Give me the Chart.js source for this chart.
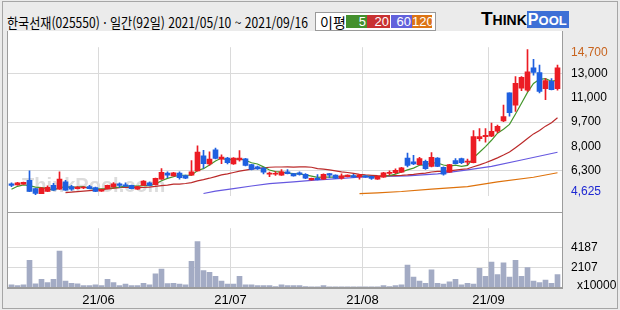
<!DOCTYPE html>
<html lang="ko">
<head>
<meta charset="utf-8">
<title>한국선재 일간 차트</title>
<script src="https://cdn.jsdelivr.net/npm/chart.js@4.4.1/dist/chart.umd.min.js"></script>
<style>
  html, body { margin: 0; padding: 0; background: #ebebeb; }
  #wrap { position: relative; width: 620px; height: 310px; overflow: hidden; background: #ebebeb; }
  .abs { position: absolute; }
  #outer { left: 2px; top: 1px; width: 616px; height: 308px; box-sizing: border-box; border: 1px solid #a6a6a6; }
  #plot-bg { left: 8px; top: 31px; width: 554px; height: 257px; background: #fff; }
  #title { left: 7px; top: 12px; font: 14px "Noto Sans CJK KR", sans-serif; white-space: nowrap; transform-origin: 0 0; color: #000; }
  #ma-box { left: 315px; top: 12px; width: 121px; height: 19px; box-sizing: border-box; border: 1px solid #9a9a9a; background: #fff; }
  #ma-box .lbl { position: absolute; left: 4px; top: -1px; font: 14px "Noto Sans CJK KR", sans-serif; }
  #ma-box .ma { position: absolute; top: 2px; height: 13px; color: #fff; text-align: right; font: 13px "Liberation Sans", sans-serif; line-height: 13px; padding-right: 1px; box-sizing: border-box; }
  #logo { left: 481px; top: 10px; font-family: "Liberation Sans", sans-serif; font-weight: bold; white-space: nowrap; line-height: 18px; }
  #logo .pool { background: #3d6fd6; color: #fff; padding: 0 2px 0 1px; }
  #x10000 { left: 577px; top: 278px; font: 12px "Liberation Sans", sans-serif; }
  canvas { position: absolute; left: 0; }
  #price { top: 31px; }
  #volume { top: 212px; }
  .line { position: absolute; background: #9c9c9c; }
</style>
</head>
<body>
<div id="wrap">
  <div id="outer" class="abs"></div>
  <div id="plot-bg" class="abs"></div>
  <div id="title" class="abs">한국선재(025550) · 일간(92일) 2021/05/10 ~ 2021/09/16</div>
  <div id="ma-box" class="abs">
    <span class="lbl">이평</span>
    <span class="ma" style="left:30px;width:21px;background:#44902e">5</span>
    <span class="ma" style="left:51px;width:23px;background:#c83232">20</span>
    <span class="ma" style="left:75px;width:21px;background:#6262dc">60</span>
    <span class="ma" style="left:96px;width:20px;background:#dc7414">120</span>
  </div>
  <div id="logo" class="abs"><span style="font-size:19px">T</span><span style="font-size:14px">HINK</span><span class="pool"><span style="font-size:16px">P</span><span style="font-size:13px">OOL</span></span></div>
  <canvas id="price" width="620" height="181"></canvas>
  <canvas id="volume" width="620" height="98"></canvas>
  <div id="x10000" class="abs">x10000</div>
  <div class="line" style="left:7px;top:31px;width:1px;height:258px"></div>
  <div class="line" style="left:562px;top:31px;width:1px;height:258px"></div>
  <div class="line" style="left:7px;top:212px;width:556px;height:1px"></div>
  <div class="line" style="left:7px;top:287px;width:556px;height:2px"></div>
</div>
<script>
// 일봉 데이터 (2021/05/10 ~ 2021/09/16, 92일)
const openPrice = [5380,5300,5355,5610,5040,4690,4840,5260,5000,5510,
  5180,5040,5080,5180,5110,4870,5040,5150,5380,5300,
  5260,5000,5260,5450,5320,5700,6120,5930,6120,5950,
  5980,6270,7320,6750,7740,7090,7170,6750,7030,7110,
  6710,6550,6460,6050,6040,5980,6210,6080,6140,6040,
  5640,5760,5700,6080,5980,5760,5870,5950,5850,5930,
  5890,5700,5840,6100,6140,6190,7170,6900,6710,6940,
  6590,7170,6520,6180,6980,7130,6880,6840,8520,8650,
  8690,9030,9750,11690,10840,12030,11890,13440,13100,11980,
  12490,11980];
const highPrice = [5450,5480,5500,6270,5060,5130,5240,5410,6210,5610,
  5260,5180,5180,5270,5150,5000,5290,5460,5450,5450,
  5290,5200,5590,5500,5780,6440,6210,6180,6210,5980,
  6980,8020,7700,7600,7850,7390,7220,7200,7680,7150,
  6730,6600,6500,6190,6230,6370,6370,6100,6210,6080,
  5780,6020,6070,6100,6000,6060,6000,6040,6040,5950,
  5910,5910,6170,6270,6410,6520,7510,7350,7220,7030,
  7550,7200,6550,6730,7130,7170,7090,9070,9220,9220,
  9600,9450,10840,11690,12830,12830,14700,14020,13630,12690,
  12690,13630];
const lowPrice = [5180,5280,5330,4820,4625,4680,4830,4920,4980,4920,
  4920,5020,5040,5020,4820,4850,5020,5130,5130,5190,
  5020,4980,5250,5240,5300,5680,5800,5900,5700,5730,
  5960,6250,6460,6650,7100,6780,6750,6720,6940,6620,
  6340,6380,6060,5870,5950,5960,6060,5900,5980,5730,
  5620,5640,5680,5800,5730,5700,5850,5820,5700,5820,
  5680,5680,5810,5980,6080,6170,6550,6710,6690,6370,
  6550,6570,5980,6160,6750,6780,6710,6820,8360,8270,
  8650,8930,9690,10080,10400,11850,11790,12930,11690,11220,
  11900,11890];
const closePrice = [5260,5450,5470,4840,4710,5070,5130,4940,5700,4940,
  5000,5150,5140,5040,4840,4980,5260,5380,5260,5210,
  5040,5180,5570,5260,5760,6180,5980,6140,5800,5760,
  6210,7580,6780,7090,7130,7240,6840,7170,7170,6650,
  6370,6410,6180,6110,6100,6210,6080,5930,6020,5760,
  5760,5660,6040,5980,5760,5930,5980,5840,5980,5840,
  5740,5890,6140,6160,6310,6480,6650,6750,7130,6420,
  7220,6590,6040,6710,6780,6840,6940,8650,8650,8750,
  9030,9370,10040,10320,12360,12780,13160,13120,11790,12550,
  11920,13440];

// 이동평균선
const ma5 = [5000,5200,5300,5250,5146,5108,5044,4938,5109,5155,
  5140,5144,5179,5046,5027,5023,5046,5100,5145,5218,
  5230,5214,5252,5252,5361,5590,5749,5864,5970,5970,
  5977,6296,6425,6685,6959,7164,7016,7092,7107,7012,
  6837,6751,6553,6336,6222,6191,6126,6076,6064,5999,
  5908,5824,5847,5839,5839,5873,5937,5896,5896,5912,
  5875,5857,5917,5949,6043,6192,6344,6466,6663,6685,
  6834,6822,6681,6597,6669,6593,6658,7180,7568,7961,
  8399,8890,9167,9502,10224,10973,11730,12346,12640,12678,
  12506,12564];
const ma20 = [null,null,null,null,null,null,null,null,null,4760,
  null,null,4860,null,null,4970,null,null,5110,5137,
  5125,5112,5117,5138,5190,5246,5288,5348,5353,5394,
  5455,5576,5660,5763,5877,5990,6069,6158,6253,6325,
  6392,6453,6484,6524,6541,6542,6547,6537,6548,6548,
  6525,6429,6392,6336,6268,6202,6159,6093,6034,5993,
  5962,5936,5934,5937,5948,5962,5990,6031,6087,6120,
  6193,6240,6240,6276,6328,6373,6420,6561,6694,6840,
  7004,7179,7373,7583,7885,8200,8525,8844,9077,9383,
  9618,9960];
const ma60Days = [32,34,37,40,43,47,50,55,58,62,66,71,76,80,85,91];
const ma60 = [4700,4860,5040,5220,5380,5510,5610,5750,5830,5890,5930,6060,6340,6590,7030,7570];
const ma120Days = [58,61,65,70,76,81,87,91];
const ma120 = [4690,4750,4840,5000,5180,5510,5830,6140];

// 거래량 (x10000)
const volume = [330,250,330,2860,440,900,570,900,3840,730,
  490,440,250,250,330,250,900,570,250,410,
  250,250,490,330,1470,1960,460,490,410,330,
  2770,4810,1800,1630,1220,730,410,410,1220,330,
  330,250,250,250,160,330,250,250,250,160,
  120,120,250,120,120,120,120,120,120,120,
  120,120,250,160,250,330,2370,1140,730,490,
  1880,490,410,650,900,330,490,410,2040,1220,
  2690,1390,2610,1140,2860,1220,2120,730,570,820,
  490,1390];

// 축 눈금
const monthStarts = [15, 37, 59, 80];
const monthLabels = ['21/06', '21/07', '21/08', '21/09'];
const priceTickLabels = ['4,625', '6,300', '8,000', '9,700', '11,000', '13,000', '14,700'];
const volumeTicks = [2107, 4187];

const upColor = '#ec1c24';
const downColor = '#1f60e0';
const gridColor = '#dadada';

Chart.defaults.font.family = '"Liberation Sans", sans-serif';
Chart.defaults.font.size = 12;
Chart.defaults.color = '#000';

const xMin = -1 / 12;
const xMax = 92.25;
const at = i => i + 0.5;
const candleColors = closePrice.map((c, i) => c >= openPrice[i] ? upColor : downColor);
const lowest = Math.min(...lowPrice);
const highest = Math.max(...highPrice);

// 배경 워터마크
const watermark = {
    id: 'watermark',
    beforeDatasetsDraw(chart) {
        const c = chart.ctx;
        c.save();
        c.fillStyle = '#dcdcdc';
        c.font = 'bold 20px "Liberation Sans", sans-serif';
        c.fillText('ThinkPool.com', chart.chartArea.left + 14, chart.chartArea.bottom - 4);
        c.restore();
    }
};

function maLine(label, points, color) {
    return {
        type: 'line',
        label: label,
        data: points,
        borderColor: color,
        borderWidth: 1.2,
        pointRadius: 0,
        spanGaps: true,
        tension: 0,
        order: 2
    };
}

// 가격/거래량 차트 공통 x축 (날짜 칸)
function dayAxis(extra) {
    return Object.assign({
        type: 'linear',
        min: xMin,
        max: xMax,
        offset: false,
        afterBuildTicks(scale) { scale.ticks = monthStarts.map(v => ({ value: v })); },
        grid: { drawTicks: false, offset: false, color: gridColor },
        border: { display: false }
    }, extra);
}

const baseOptions = {
    responsive: false,
    animation: false,
    devicePixelRatio: 1,
    layout: { padding: { left: 8, right: 0, top: 0, bottom: 0 } },
    plugins: { legend: { display: false }, tooltip: { enabled: false } }
};

new Chart(document.getElementById('price'), {
    type: 'bar',
    data: {
        datasets: [
            {
                label: '고저',
                data: lowPrice.map((l, i) => ({ x: at(i), y: [l, highPrice[i]] })),
                backgroundColor: candleColors,
                barThickness: 1,
                grouped: false,
                order: 1
            },
            {
                label: '시종',
                data: openPrice.map((o, i) => ({ x: at(i), y: [o, closePrice[i]] })),
                backgroundColor: candleColors,
                barThickness: 5,
                minBarLength: 1,
                grouped: false,
                order: 0
            },
            maLine('5', ma5.map((v, i) => ({ x: at(i), y: v })), '#44962c'),
            maLine('20', ma20.map((v, i) => ({ x: at(i), y: v })), '#bb2a2a'),
            maLine('60', ma60Days.map((d, i) => ({ x: at(d), y: ma60[i] })), '#6658e0'),
            maLine('120', ma120Days.map((d, i) => ({ x: at(d), y: ma120[i] })), '#de720c')
        ]
    },
    options: {
        ...baseOptions,
        scales: {
            x: dayAxis({
                afterFit(scale) { scale.height = 0; },
                ticks: { display: false }
            }),
            y: {
                position: 'right',
                min: 4540,
                max: 14870,
                afterBuildTicks(scale) {
                    const inset = 4 * (scale.max - scale.min) / 181;
                    scale.ticks = priceTickLabels.map((_, i) => {
                        let v = lowest + (highest - lowest) * i / (priceTickLabels.length - 1);
                        if (i === 0) v += inset;
                        if (i === priceTickLabels.length - 1) v -= inset;
                        return { value: v };
                    });
                },
                afterFit(scale) { scale.width = 58; },
                ticks: {
                    padding: 9,
                    callback: (v, i) => priceTickLabels[i],
                    color: ctx => ctx.index === 0 ? '#1e28d2' : (ctx.index === priceTickLabels.length - 1 ? '#c8641e' : '#000')
                },
                grid: {
                    drawTicks: false,
                    color: ctx => (ctx.index % 2 === 1) ? gridColor : 'rgba(0,0,0,0)'
                },
                border: { display: false }
            }
        }
    },
    plugins: [watermark]
});

new Chart(document.getElementById('volume'), {
    type: 'bar',
    data: {
        datasets: [{
            label: '거래량',
            data: volume.map((v, i) => ({ x: at(i), y: v })),
            backgroundColor: '#a3abc4',
            barThickness: 5
        }]
    },
    options: {
        ...baseOptions,
        scales: {
            x: dayAxis({
                afterFit(scale) { scale.height = 22; },
                ticks: { padding: 5, maxRotation: 0, autoSkip: false, font: { size: 13 }, callback: (v, i) => monthLabels[i] }
            }),
            y: {
                position: 'right',
                min: 0,
                max: 6200,
                afterBuildTicks(scale) { scale.ticks = volumeTicks.map(v => ({ value: v })); },
                afterFit(scale) { scale.width = 58; },
                ticks: { padding: 9, callback: v => String(v) },
                grid: { drawTicks: false, color: gridColor },
                border: { display: false }
            }
        }
    }
});

// 제목 폭을 원본에 맞춤
document.fonts.ready.then(() => {
    const t = document.getElementById('title');
    t.style.transform = 'scaleX(' + (301 / t.offsetWidth) + ')';
});
</script>
</body>
</html>
